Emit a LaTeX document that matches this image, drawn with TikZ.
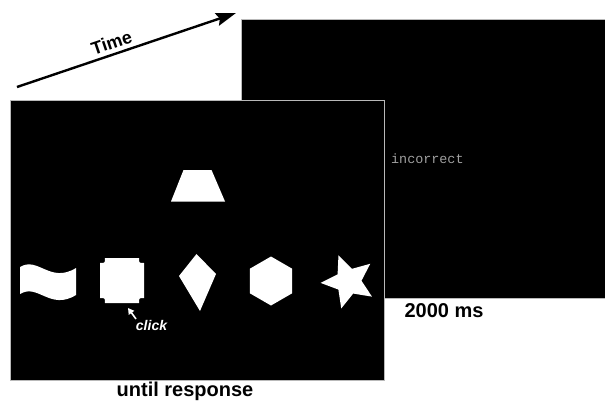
\documentclass[tikz,border=0pt]{standalone}
\usepackage{fontspec}
\setmainfont{Liberation Sans}
\newfontfamily\monofont{Liberation Mono}
\usetikzlibrary{arrows.meta}
\tikzset{
  screen/.style={fill=black, draw=gray!55, line width=1pt},
  stim/.style={fill=white, draw=none},
  caption/.style={font=\fontsize{20}{24}\selectfont\bfseries, inner sep=0pt},
}
\begin{document}
\begin{tikzpicture}[x=1pt, y=-1pt]
\useasboundingbox (0,0) rectangle (605,402);

% time arrow
\coordinate (tstart) at (17,87);
\coordinate (tend) at (236,13);
\draw[line width=2.4pt, -{Stealth[length=20pt,width=13pt,inset=3pt]}] (tstart) -- (tend);
\node[font=\fontsize{18}{20}\selectfont\bfseries, rotate=18.7, inner sep=0pt] (time) at (111.5,42.5) {Time};

% feedback screen (behind)
\draw[screen] (241,19) rectangle (605,298);
\node[font=\monofont\fontsize{13.4}{16}\selectfont, text=gray!75, inner sep=0pt, anchor=west] (fb) at (391,158.5) {incorrect};

% choice screen (front)
\draw[screen] (10,100) rectangle (384,380);

% sample: trapezoid
\fill[stim] (183.5,170) -- (211.5,170) -- (225,201.5) -- (171,201.5) -- cycle;

% wavy flag
\fill[stim] (20,267) .. controls (38,256) and (50,284) .. (76,268)
  -- (76,295) .. controls (50,311) and (38,283) .. (20,294) -- cycle;

% square with notched corners
\fill[stim] (105,258) -- (139,258) .. controls (139,263) .. (144,263)
  -- (144,298) .. controls (139,298) .. (139,303)
  -- (105,303) .. controls (105,298) .. (100,298)
  -- (100,263) .. controls (105,263) .. (105,258) -- cycle;

% kite
\fill[stim] (196.5,254) -- (216,274) -- (200,311) -- (179,276) -- cycle;

% hexagon
\fill[stim] (271,281) +(-90:24.5) -- +(-30:24.5) -- +(30:24.5) -- +(90:24.5) -- +(150:24.5) -- +(210:24.5) -- cycle;

% star
\fill[stim] (348.5,281.4) +(177:28) -- +(213:13) -- +(249:28) -- +(285:13)
  -- +(321:28) -- +(357:13) -- +(33:28) -- +(69:13) -- +(105:28) -- +(141:13) -- cycle;

% mouse pointer and click label
\coordinate (ptail) at (136,319);
\coordinate (ptip) at (128,308);
\draw[white, line width=1.6pt, -{Triangle[length=6pt,width=6.5pt]}] (ptail) -- (ptip);
\node[font=\fontsize{14}{16}\selectfont\bfseries\itshape, text=white, inner sep=0pt] (click) at (151.5,325) {click};

% timing captions
\node[caption] (until) at (185,391) {until response};
\node[caption] (dur) at (444,311) {2000 ms};
\end{tikzpicture}
\end{document}
